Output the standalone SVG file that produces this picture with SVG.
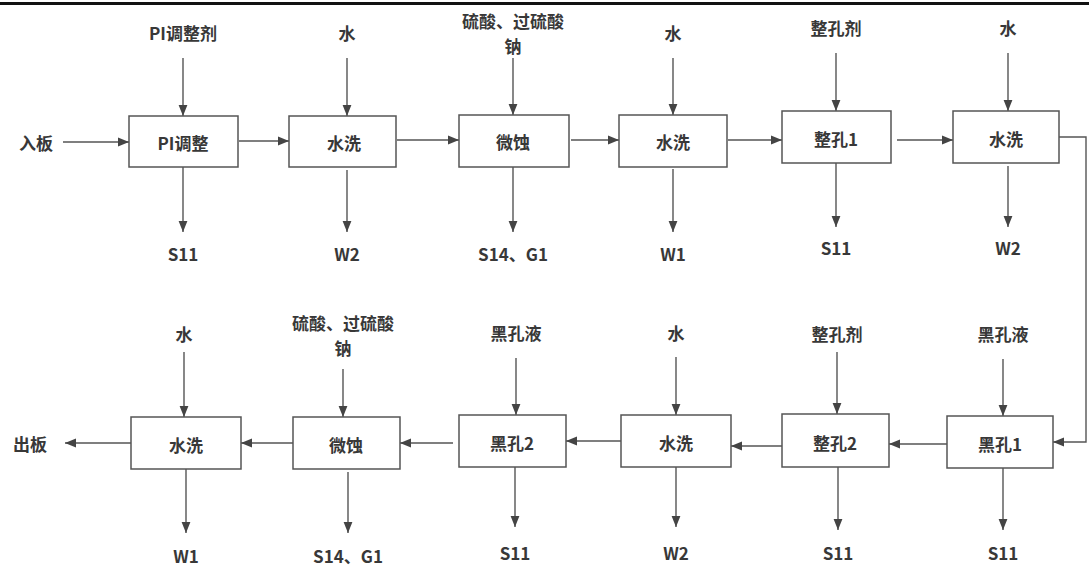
<svg xmlns="http://www.w3.org/2000/svg" width="1089" height="566" viewBox="0 0 1089 566">
<defs>
<marker id="ah" viewBox="0 0 10 10" refX="10" refY="5" markerWidth="11" markerHeight="11" markerUnits="userSpaceOnUse" orient="auto">
<path d="M0,1 L10,5 L0,9 Z" fill="#444"/>
</marker>
<style>
.box{fill:#fff;stroke:#555;stroke-width:1.5}
.ln{fill:none;stroke:#555;stroke-width:1.4;marker-end:url(#ah)}
text{font-family:"Noto Sans CJK SC","Noto Sans",sans-serif;font-size:17px;font-weight:bold;fill:#383838;text-anchor:middle;dominant-baseline:central}
</style>
</defs>
<rect width="1089" height="566" fill="#fff"/>
<rect x="0" y="2" width="1089" height="3" fill="#111"/>

<g id="connectors">
<line class="ln" x1="63" y1="142" x2="129" y2="142"/>
<line class="ln" x1="239" y1="141" x2="289" y2="141"/>
<line class="ln" x1="397" y1="140" x2="459" y2="140"/>
<line class="ln" x1="571" y1="140" x2="619" y2="140"/>
<line class="ln" x1="728" y1="140" x2="782" y2="140"/>
<line class="ln" x1="897" y1="140" x2="953" y2="140"/>
<polyline class="ln" points="1059,137 1086,137 1086,442 1053,442"/>
<line class="ln" x1="183" y1="58" x2="183" y2="116"/>
<line class="ln" x1="347" y1="58" x2="347" y2="116"/>
<line class="ln" x1="513" y1="58" x2="513" y2="115"/>
<line class="ln" x1="673" y1="58" x2="673" y2="115"/>
<line class="ln" x1="836" y1="53" x2="836" y2="111"/>
<line class="ln" x1="1008" y1="53" x2="1008" y2="111"/>
<line class="ln" x1="183" y1="167" x2="183" y2="232"/>
<line class="ln" x1="347" y1="170" x2="347" y2="232"/>
<line class="ln" x1="513" y1="167" x2="513" y2="232"/>
<line class="ln" x1="673" y1="169" x2="673" y2="232"/>
<line class="ln" x1="836" y1="163" x2="836" y2="227"/>
<line class="ln" x1="1008" y1="166" x2="1008" y2="227"/>
<line class="ln" x1="949" y1="444" x2="889" y2="444"/>
<line class="ln" x1="782" y1="446" x2="731" y2="446"/>
<line class="ln" x1="621" y1="441" x2="566" y2="441"/>
<line class="ln" x1="453" y1="443" x2="400" y2="443"/>
<line class="ln" x1="293" y1="443" x2="241" y2="443"/>
<line class="ln" x1="131" y1="443" x2="65" y2="443"/>
<line class="ln" x1="184" y1="352" x2="184" y2="417"/>
<line class="ln" x1="343" y1="369" x2="343" y2="417"/>
<line class="ln" x1="516" y1="358" x2="516" y2="415"/>
<line class="ln" x1="676" y1="357" x2="676" y2="415"/>
<line class="ln" x1="837" y1="352" x2="837" y2="414"/>
<line class="ln" x1="1003" y1="359" x2="1003" y2="416"/>
<line class="ln" x1="186" y1="469" x2="186" y2="533"/>
<line class="ln" x1="348" y1="472" x2="348" y2="533"/>
<line class="ln" x1="515" y1="467" x2="515" y2="527"/>
<line class="ln" x1="676" y1="467" x2="676" y2="527"/>
<line class="ln" x1="838" y1="467" x2="838" y2="530"/>
<line class="ln" x1="1003" y1="468" x2="1003" y2="530"/>
</g>

<g id="labels">
<text x="36" y="142">入板</text>
<text x="183" y="32">PI调整剂</text>
<text x="347" y="32">水</text>
<text x="513" y="20">硫酸、过硫酸</text>
<text x="513" y="45">钠</text>
<text x="673" y="32">水</text>
<text x="836" y="27">整孔剂</text>
<text x="1008" y="27">水</text>
<text x="183" y="253">S11</text>
<text x="347" y="253">W2</text>
<text x="513" y="253">S14、G1</text>
<text x="673" y="253">W1</text>
<text x="836" y="247">S11</text>
<text x="1008" y="247">W2</text>
<text x="30" y="443">出板</text>
<text x="184" y="333">水</text>
<text x="343" y="322">硫酸、过硫酸</text>
<text x="343" y="347">钠</text>
<text x="516" y="332">黑孔液</text>
<text x="676" y="332">水</text>
<text x="837" y="333">整孔剂</text>
<text x="1003" y="333">黑孔液</text>
<text x="186" y="555">W1</text>
<text x="348" y="555">S14、G1</text>
<text x="515" y="552">S11</text>
<text x="676" y="552">W2</text>
<text x="838" y="552">S11</text>
<text x="1003" y="552">S11</text>
</g>

<g id="n1"><rect class="box" x="129" y="116" width="109" height="51"/><text x="183" y="142">PI调整</text></g>
<g id="n2"><rect class="box" x="289" y="116" width="107" height="51"/><text x="344" y="142">水洗</text></g>
<g id="n3"><rect class="box" x="459" y="115" width="110" height="52"/><text x="513" y="141">微蚀</text></g>
<g id="n4"><rect class="box" x="619" y="115" width="108" height="52"/><text x="673" y="141">水洗</text></g>
<g id="n5"><rect class="box" x="782" y="111" width="109" height="52"/><text x="836" y="138">整孔1</text></g>
<g id="n6"><rect class="box" x="953" y="111" width="106" height="52"/><text x="1006" y="138">水洗</text></g>
<g id="n7"><rect class="box" x="947" y="416" width="106" height="52"/><text x="1000" y="443">黑孔1</text></g>
<g id="n8"><rect class="box" x="782" y="414" width="107" height="53"/><text x="835" y="442">整孔2</text></g>
<g id="n9"><rect class="box" x="621" y="415" width="110" height="52"/><text x="676" y="442">水洗</text></g>
<g id="n10"><rect class="box" x="459" y="415" width="107" height="52"/><text x="512" y="442">黑孔2</text></g>
<g id="n11"><rect class="box" x="293" y="417" width="107" height="52"/><text x="346" y="444">微蚀</text></g>
<g id="n12"><rect class="box" x="131" y="417" width="110" height="52"/><text x="186" y="444">水洗</text></g>
</svg>
